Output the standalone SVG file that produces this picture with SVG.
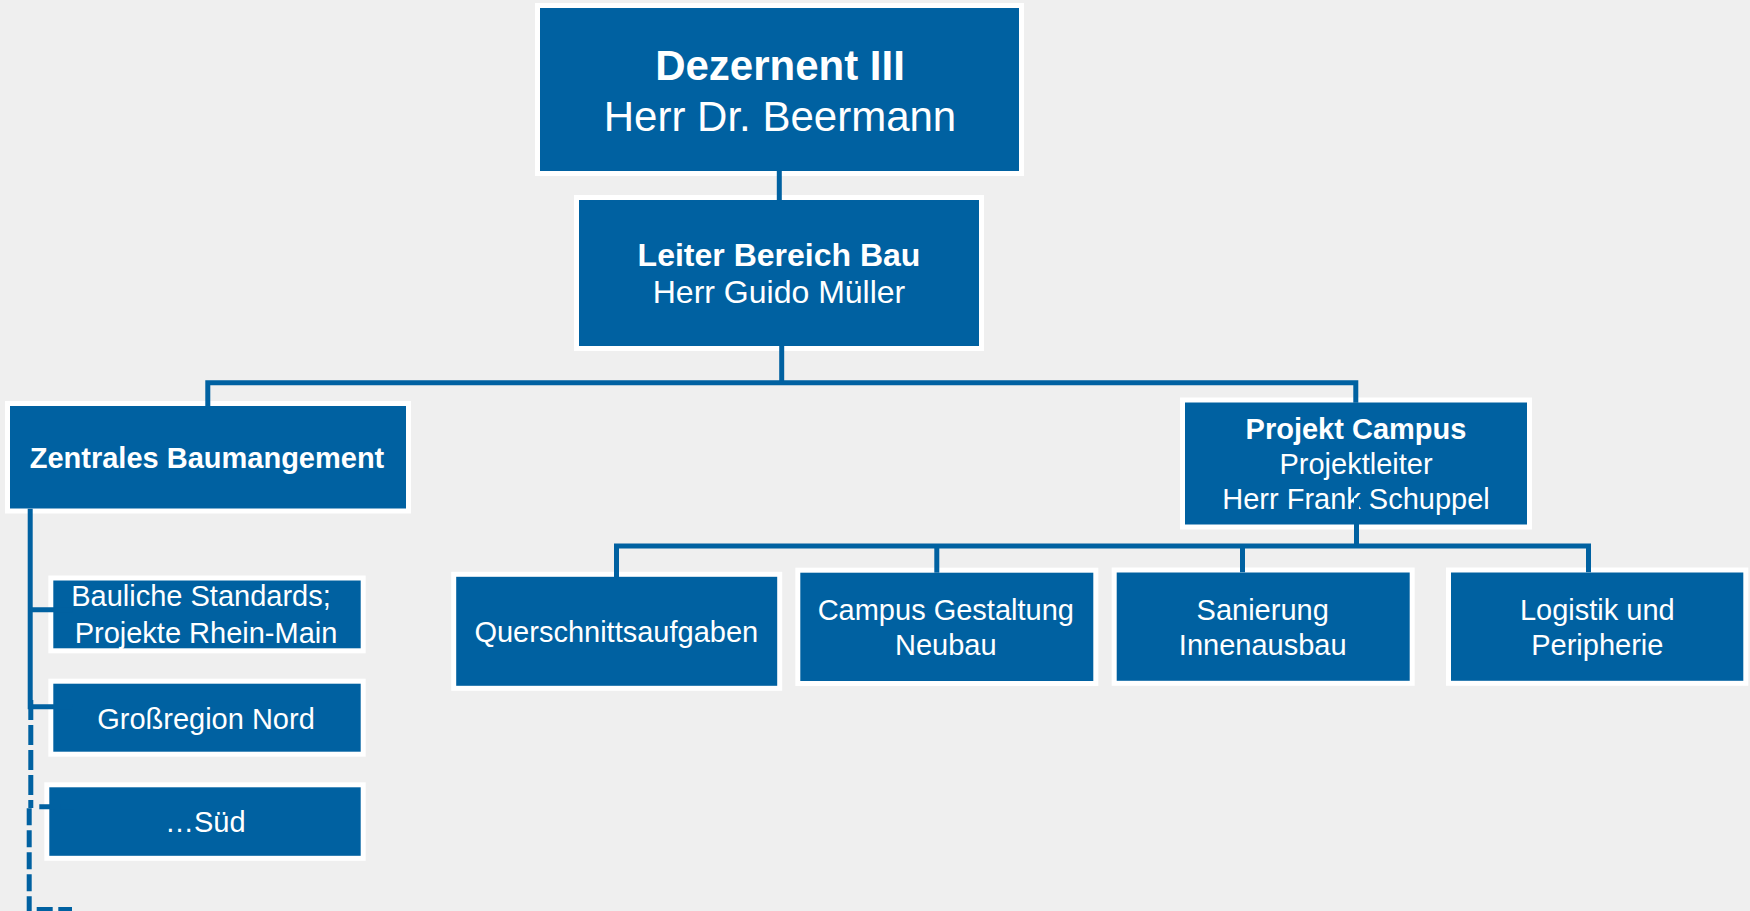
<svg xmlns="http://www.w3.org/2000/svg" width="1750" height="911" viewBox="0 0 1750 911">
<style>
.box{fill:#0061a1;stroke:#ffffff;stroke-width:5}
.t{font-family:"Liberation Sans",Arial,sans-serif;fill:#ffffff;text-anchor:middle}
.b{font-weight:bold}
.c{fill:none;stroke:#0061a1;stroke-width:5;stroke-linejoin:miter;stroke-linecap:butt}
</style>
<rect x="0" y="0" width="1750" height="911" fill="#efefef"/>
<g id="node-dezernent">
<rect class="box" x="537.5" y="5.5" width="484" height="168"/>
<text class="t b" x="780" y="80" font-size="42">Dezernent III</text>
<text class="t" x="780" y="131" font-size="42">Herr Dr. Beermann</text>
</g>
<g id="node-leiter">
<rect class="box" x="576.5" y="197.5" width="405" height="151"/>
<text class="t b" x="779" y="266" font-size="32">Leiter Bereich Bau</text>
<text class="t" x="779" y="303" font-size="32">Herr Guido Müller</text>
</g>
<g id="node-zentrales">
<rect class="box" x="7.5" y="403.5" width="401" height="107.5"/>
<text class="t b" x="207" y="468" font-size="29">Zentrales Baumangement</text>
</g>
<g id="node-projekt">
<rect class="box" x="1182.5" y="400" width="347" height="127"/>
<text class="t b" x="1356" y="439.3" font-size="29">Projekt Campus</text>
<text class="t" x="1356" y="474" font-size="29">Projektleiter</text>
<text class="t" x="1356" y="509.3" font-size="29">Herr Frank Schuppel</text>
</g>
<g id="node-bauliche">
<rect class="box" x="50.8" y="578" width="312.4" height="72.8"/>
<text class="t" x="201" y="606.2" font-size="29">Bauliche Standards;</text>
<text class="t" x="206" y="643.1" font-size="29">Projekte Rhein-Main</text>
</g>
<g id="node-gross">
<rect class="box" x="50.8" y="681.2" width="312.4" height="73"/>
<text class="t" x="206" y="728.8" font-size="29">Großregion Nord</text>
</g>
<g id="node-sued">
<rect class="box" x="46.8" y="784.8" width="316.4" height="73.5"/>
<text class="t" x="205.3" y="832" font-size="29">…Süd</text>
</g>
<g id="node-quer">
<rect class="box" x="453.7" y="574.3" width="326" height="114"/>
<text class="t" x="616.3" y="641.7" font-size="29">Querschnittsaufgaben</text>
</g>
<g id="node-campus">
<rect class="box" x="797.8" y="570.2" width="298" height="113.3"/>
<text class="t" x="945.8" y="620" font-size="29">Campus Gestaltung</text>
<text class="t" x="945.8" y="655" font-size="29">Neubau</text>
</g>
<g id="node-sanierung">
<rect class="box" x="1114.2" y="570" width="298" height="113.3"/>
<text class="t" x="1262.7" y="620" font-size="29">Sanierung</text>
<text class="t" x="1262.7" y="655" font-size="29">Innenausbau</text>
</g>
<g id="node-logistik">
<rect class="box" x="1448.5" y="570" width="297.3" height="113.3"/>
<text class="t" x="1597.3" y="620" font-size="29">Logistik und</text>
<text class="t" x="1597.3" y="655" font-size="29">Peripherie</text>
</g>
<g id="connectors">
<path class="c" d="M779.3 171 V200"/>
<path class="c" d="M781.7 346 V382.8"/>
<path class="c" d="M207.8 406 V382.8 H1355.8 V402.7"/>
<path class="c" d="M1356.5 498 V546"/>
<path class="c" d="M616.5 577 V546 H1588.5 V572.3"/>
<path class="c" d="M936.8 546 V572.7"/>
<path class="c" d="M1242.5 546 V572.3"/>
<path class="c" d="M30.2 508.7 V706.8 H72.7"/>
<path class="c" d="M30.2 609.8 H72.7"/>
<path class="c" d="M30.8 700 V808" stroke-dasharray="20 5"/>
<path class="c" d="M29.2 808.3 V911" stroke-dasharray="17 5"/>
<path class="c" d="M39.3 806.8 H74" stroke-dasharray="15.7 5.7"/>
<path class="c" d="M36.7 909.5 H72" stroke-dasharray="16 5.6"/>
</g>
</svg>
